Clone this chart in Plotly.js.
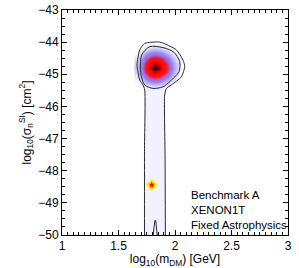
<!DOCTYPE html>
<html>
<head>
<meta charset="utf-8">
<script src="https://cdn.plot.ly/plotly-3.0.1.min.js"></script>
<style>html,body{margin:0;padding:0;background:#fff}#chart{width:299px;height:268px}</style>
</head>
<body>
<div id="chart"></div>
<script>
// posterior density grid
const xGrid = [1.66, 1.70, 1.74, 1.78, 1.82, 1.86, 1.90, 1.94, 1.98, 2.02, 2.06];
const yGrid = [-45.55, -45.4, -45.25, -45.1, -44.95, -44.8, -44.65, -44.5, -44.35, -44.2, -44.05];
const zDensity = [
  [0, 0, 0.06, 0.06, 0.06, 0.06, 0.06, 0, 0, 0, 0],
  [0, 0, 0.06, 0.08, 0.11, 0.09, 0.06, 0, 0, 0, 0],
  [0, 0.10, 0.27, 0.38, 0.42, 0.40, 0.32, 0.19, 0.06, 0, 0],
  [0.07, 0.30, 0.49, 0.62, 0.66, 0.63, 0.55, 0.42, 0.24, 0.06, 0],
  [0.18, 0.44, 0.64, 0.77, 0.84, 0.79, 0.70, 0.57, 0.39, 0.16, 0],
  [0.23, 0.49, 0.70, 0.87, 1.00, 0.91, 0.76, 0.62, 0.44, 0.21, 0.01],
  [0.20, 0.46, 0.67, 0.81, 0.89, 0.84, 0.73, 0.59, 0.41, 0.19, 0],
  [0.11, 0.35, 0.55, 0.67, 0.72, 0.69, 0.61, 0.48, 0.30, 0.10, 0],
  [0, 0.16, 0.36, 0.47, 0.51, 0.48, 0.41, 0.28, 0.12, 0, 0],
  [0, 0, 0.10, 0.19, 0.23, 0.20, 0.14, 0.05, 0, 0, 0],
  [0, 0, 0, 0, 0, 0, 0, 0, 0, 0, 0]
];
// vertical low-density band
const columnX = [1.73, 1.73, 1.91, 1.915, 1.73];
const columnY = [-50, -45.5, -45.5, -50, -50];
// outer credible contour
const outerX = [1.73, 1.73, 1.732, 1.717, 1.688, 1.664, 1.688, 1.732, 1.865, 2.012, 2.071, 2.086, 2.057, 1.968, 1.924, 1.909, 1.912, 1.915];
const outerY = [-50, -47.4, -45.49, -45.33, -45.18, -44.71, -44.24, -44.04, -44.0, -44.24, -44.56, -44.76, -45.08, -45.33, -45.44, -45.64, -47.5, -50];
// inner credible contour
const innerX = [1.694, 1.705, 1.776, 1.894, 1.989, 2.042, 2.035, 1.953, 1.894, 1.805, 1.732, 1.703, 1.694];
const innerY = [-44.81, -44.40, -44.14, -44.17, -44.31, -44.61, -44.92, -45.23, -45.39, -45.44, -45.33, -45.08, -44.81];
// small contour at bottom
const spikeX = [1.806, 1.812, 1.822, 1.830, 1.838, 1.842];
const spikeY = [-50, -49.75, -49.55, -49.55, -49.75, -50];
// benchmark point
const benchX = [1.794];
const benchY = [-48.44];
const xTickVals = [1, 1.5, 2, 2.5, 3];
const xTickText = ['1', '1.5', '2', '2.5', '3'];
const yTickVals = [-50, -49, -48, -47, -46, -45, -44, -43];

const lineCol = '#2a2a2a';
const traces = [
  {type: 'scatter', x: columnX, y: columnY, mode: 'lines', fill: 'toself',
   fillcolor: '#f2f1fd', line: {width: 0}, hoverinfo: 'skip', showlegend: false},
  {type: 'heatmap', x: xGrid, y: yGrid, z: zDensity, zsmooth: 'best', zmin: 0, zmax: 1,
   showscale: false, hoverinfo: 'skip',
   colorscale: [[0, 'rgba(255,255,255,0)'], [0.04, '#f2f1fd'], [0.15, '#e0dcfb'],
                [0.3, '#bcb4f7'], [0.45, '#9386f3'], [0.58, '#a85ed6'], [0.66, '#ff1a1a'],
                [0.84, '#f00000'], [0.93, '#780000'], [1, '#000000']]},
  {type: 'scatter', x: outerX, y: outerY, mode: 'lines', line: {color: lineCol, width: 1, shape: 'spline', smoothing: 0.6},
   hoverinfo: 'skip', showlegend: false},
  {type: 'scatter', x: innerX, y: innerY, mode: 'lines', line: {color: lineCol, width: 1, shape: 'spline', smoothing: 0.8},
   hoverinfo: 'skip', showlegend: false},
  {type: 'scatter', x: spikeX, y: spikeY, mode: 'lines', line: {color: lineCol, width: 1},
   hoverinfo: 'skip', showlegend: false},
  {type: 'scatter', x: benchX, y: benchY, mode: 'markers',
   marker: {symbol: 'diamond', size: 9, color: '#ffee00', line: {width: 0}}, hoverinfo: 'skip', showlegend: false},
  {type: 'scatter', x: benchX, y: benchY, mode: 'markers',
   marker: {symbol: 'star', size: 5, color: '#ff0000', line: {width: 0}}, hoverinfo: 'skip', showlegend: false}
];

const axisCommon = {
  showgrid: false, zeroline: false, showline: true, linecolor: '#000', linewidth: 1,
  mirror: 'ticks', ticks: 'inside', ticklen: 5, tickwidth: 1, tickcolor: '#000',
  tickfont: {family: 'Liberation Sans, Arial, sans-serif', size: 12, color: '#000'}
};
const layout = {
  width: 299, height: 268,
  margin: {l: 62, r: 11, t: 10, b: 33, pad: 0},
  paper_bgcolor: '#fff', plot_bgcolor: '#fff',
  font: {family: 'Liberation Sans, Arial, sans-serif', color: '#000'},
  xaxis: Object.assign({}, axisCommon, {
    range: [1, 3], tickvals: xTickVals, ticktext: xTickText,
    minor: {dtick: 0.05, ticklen: 3, tickcolor: '#000', ticks: 'inside', showgrid: false},
    title: {text: 'log<sub>10</sub>(m<sub>DM</sub>) [GeV]', font: {size: 12}, standoff: 2}
  }),
  yaxis: Object.assign({}, axisCommon, {
    range: [-50, -43], tickvals: yTickVals,
    minor: {dtick: 0.25, ticklen: 3, tickcolor: '#000', ticks: 'inside', showgrid: false},
    title: {text: 'log<sub>10</sub>(σ<sub>n</sub><sup>SI</sup>) [cm<sup>2</sup>]', font: {size: 12}, standoff: 4}
  }),
  annotations: [{
    xref: 'x', yref: 'y', x: 2.12, y: -48.5, xanchor: 'left', yanchor: 'top',
    align: 'left', showarrow: false,
    text: 'Benchmark A<br>XENON1T<br>Fixed Astrophysics',
    font: {size: 11.5, color: '#000'}
  }]
};
Plotly.newPlot('chart', traces, layout, {staticPlot: true, displayModeBar: false});
</script>
</body>
</html>
